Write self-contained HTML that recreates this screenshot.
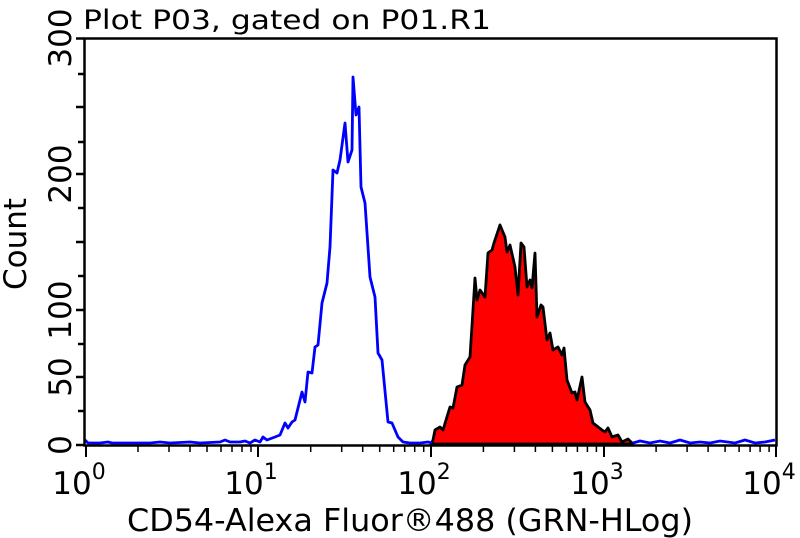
<!DOCTYPE html>
<html><head><meta charset="utf-8"><style>
html,body{margin:0;padding:0;background:#fff;}
svg{display:block;font-family:"DejaVu Sans","Liberation Sans",sans-serif;}
</style></head><body>
<svg width="800" height="538" viewBox="0 0 800 538" xmlns="http://www.w3.org/2000/svg">
<rect width="800" height="538" fill="#fff"/>
<text x="83" y="29" font-size="27" fill="#000" textLength="408" lengthAdjust="spacingAndGlyphs">Plot P03, gated on P01.R1</text>
<polygon fill="#ff0000" stroke="#000" stroke-width="2.8" stroke-linejoin="round" points="431,444 433,440 435,430 440,427 443,430 450,407 453,408 457,387 462,385 465,365 470,357 473,310 475,278 477,300 480,290 485,297 488,253 492,250 494,243 500,225 505,237 507,252 510,245 515,267 518,295 521,243 524,247 527,287 530,280 532,288 535,253 537,317 541,305 543,307 547,340 550,333 553,350 558,347 562,355 564,348 567,380 572,393 575,392 577,400 582,377 585,402 590,410 593,423 602,430 605,432 608,428 612,437 618,435 622,442 628,439 633,444"/>
<polyline fill="none" stroke="#0000ff" stroke-width="2.8" stroke-linejoin="round" points="85,440 88,443 100,443 108,442 112,443 150,443 160,442 170,443 190,442 200,443 220,442 225,440 230,442 240,442 245,441 250,443 255,440 260,442 263,437 267,440 275,437 280,435 285,423 288,428 292,422 295,420 302,392 305,402 308,372 312,373 315,347 318,345 322,303 327,283 330,247 333,170 337,173 340,160 345,123 348,162 352,150 353,77 356,115 359,107 361,187 365,203 370,277 375,297 378,353 382,360 388,422 392,423 398,437 403,442 410,443 420,443 428,442 432,443"/>
<polyline fill="none" stroke="#0000ff" stroke-width="2.8" points="633,443 640,441 650,443 660,441 670,443 680,440 690,443 700,442 710,443 720,441 735,443 745,440 755,443 765,442 775,440"/>
<rect x="84.5" y="38.5" width="692" height="407" fill="none" stroke="#000" stroke-width="2.5"/>
<g stroke="#000" stroke-width="2.5">
<line x1="76" y1="38.5" x2="84" y2="38.5"/>
<line x1="78" y1="74" x2="84" y2="74"/>
<line x1="76" y1="107" x2="84" y2="107"/>
<line x1="78" y1="142" x2="84" y2="142"/>
<line x1="76" y1="174" x2="84" y2="174"/>
<line x1="78" y1="208" x2="84" y2="208"/>
<line x1="76" y1="242" x2="84" y2="242"/>
<line x1="78" y1="276" x2="84" y2="276"/>
<line x1="76" y1="310" x2="84" y2="310"/>
<line x1="78" y1="344" x2="84" y2="344"/>
<line x1="76" y1="377" x2="84" y2="377"/>
<line x1="78" y1="411" x2="84" y2="411"/>
<line x1="76" y1="445" x2="84" y2="445"/>
</g>
<g stroke="#000" stroke-width="2">
<line x1="86" y1="446" x2="86" y2="457"/><line x1="258" y1="446" x2="258" y2="457"/><line x1="431" y1="446" x2="431" y2="457"/><line x1="604" y1="446" x2="604" y2="457"/><line x1="776" y1="446" x2="776" y2="457"/>
</g>
<g stroke="#000" stroke-width="1.5" id="minor">
<line x1="138" y1="446" x2="138" y2="452"/><line x1="169" y1="446" x2="169" y2="452"/><line x1="190" y1="446" x2="190" y2="452"/><line x1="207" y1="446" x2="207" y2="452"/><line x1="221" y1="446" x2="221" y2="452"/><line x1="232" y1="446" x2="232" y2="452"/><line x1="242" y1="446" x2="242" y2="452"/><line x1="251" y1="446" x2="251" y2="452"/>
</g>
<use href="#minor" x="172.7"/><use href="#minor" x="345.4"/><use href="#minor" x="518.1"/>
<g font-size="31" fill="#000" text-anchor="middle">
<text transform="translate(71,38) rotate(-90)">300</text>
<text transform="translate(71,174) rotate(-90)">200</text>
<text transform="translate(71,310) rotate(-90)">100</text>
<text transform="translate(71,377) rotate(-90)">50</text>
<text transform="translate(71,445) rotate(-90)">0</text>
<text transform="translate(26,244) rotate(-90)" font-size="31">Count</text>
</g>
<g font-size="31" fill="#000" text-anchor="middle">
<text x="79" y="494">10<tspan font-size="22" dy="-15">0</tspan></text>
<text x="251" y="494">10<tspan font-size="22" dy="-15">1</tspan></text>
<text x="424" y="494">10<tspan font-size="22" dy="-15">2</tspan></text>
<text x="597" y="494">10<tspan font-size="22" dy="-15">3</tspan></text>
<text x="769" y="494">10<tspan font-size="22" dy="-15">4</tspan></text>
<text x="410" y="531" textLength="566" lengthAdjust="spacingAndGlyphs">CD54-Alexa Fluor®488 (GRN-HLog)</text>
</g>
</svg>
</body></html>
